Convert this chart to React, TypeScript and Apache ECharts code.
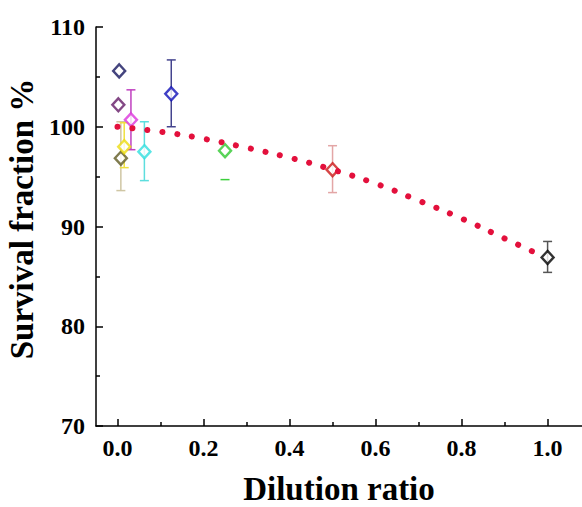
import React, { useEffect, useRef } from "react";
import * as echarts from "echarts";

// Measured points (hollow diamonds)
const dilution = [0.00195, 0.0039, 0.0078, 0.0156, 0.03125, 0.0625, 0.125, 0.25, 0.5, 1.0];
const survival = [102.2, 105.6, 96.85, 98.0, 100.7, 97.5, 103.3, 97.6, 95.7, 86.9];
const errLow: (number | null)[] = [null, null, 93.6, 95.9, 97.7, 94.6, 100.0, 94.7, 93.4, 85.4];
const errHigh: (number | null)[] = [null, null, 100.5, 100.4, 103.7, 100.5, 106.7, null, 98.1, 88.5];

// Fitted trend curve
const fitX = [0, 0.1, 0.2, 0.3, 0.4, 0.5, 0.6, 0.7, 0.8, 0.9, 0.985];
const fitY = [100.0, 99.5, 98.8, 97.9, 96.9, 95.7, 94.3, 92.6, 90.8, 88.8, 87.1];

// Tick values
const xTicks = [0, 0.2, 0.4, 0.6, 0.8, 1.0];
const xMinorTicks = [0.1, 0.3, 0.5, 0.7, 0.9];

// Styles
const markerColors = ["#641a66", "#15155e", "#5f5a22", "#ecdc10", "#dc34dc", "#30dede", "#1010b8", "#30c830", "#cc1818", "#000000"];
const barColors = ["#641a66", "#15155e", "#cfc6a4", "#efe040", "#c040c0", "#5ddede", "#44448e", "#3ccf3c", "#e3a6a6", "#555555"];

const FONT = "'Liberation Serif', 'Times New Roman', serif";

export default function App() {
  const ref = useRef<HTMLDivElement>(null);
  useEffect(() => {
    if (!ref.current) return;
    const chart = echarts.init(ref.current, undefined, { renderer: "svg" });

    const errData = dilution
      .map((x, i) => [x, errLow[i] == null ? NaN : errLow[i], errHigh[i] == null ? NaN : errHigh[i], i])
      .filter((d) => !isNaN(d[1] as number));

    const option: any = {
      animation: false,
      backgroundColor: "#ffffff",
      grid: { left: 96, right: 0, top: 27, bottom: 81, containLabel: false },
      xAxis: [
        {
          type: "value",
          min: -0.05,
          max: 1.08,
          axisLine: { show: true, onZero: false, lineStyle: { color: "#000", width: 1.5 } },
          axisTick: { show: true, inside: true, length: 7, customValues: xTicks, lineStyle: { color: "#000", width: 1.5 } },
          axisLabel: {
            show: true,
            customValues: xTicks,
            margin: 10,
            formatter: (v: number) => v.toFixed(1),
            fontFamily: FONT,
            fontWeight: "bold",
            fontSize: 24,
            color: "#000",
          },
          splitLine: { show: false },
        },
        {
          type: "value",
          min: -0.05,
          max: 1.08,
          position: "bottom",
          axisLine: { show: false },
          axisTick: { show: true, inside: true, length: 4, customValues: xMinorTicks, lineStyle: { color: "#000", width: 1.5 } },
          axisLabel: { show: false },
          splitLine: { show: false },
        },
      ],
      yAxis: {
        type: "value",
        min: 70,
        max: 110,
        interval: 10,
        axisLine: { show: true, onZero: false, lineStyle: { color: "#000", width: 1.5 } },
        axisTick: { show: true, inside: true, length: 7, lineStyle: { color: "#000", width: 1.5 } },
        minorTick: { show: true, splitNumber: 2, length: 4, lineStyle: { color: "#000", width: 1.5 } },
        axisLabel: { margin: 11, fontFamily: FONT, fontWeight: "bold", fontSize: 24, color: "#000" },
        splitLine: { show: false },
      },
      graphic: [
        {
          type: "text",
          x: 22,
          y: 219,
          rotation: Math.PI / 2,
          style: {
            text: "Survival fraction %",
            fontFamily: FONT,
            fontWeight: "bold",
            fontSize: 33,
            fill: "#000",
            align: "center",
            verticalAlign: "middle",
          },
        },
        {
          type: "text",
          x: 339,
          y: 489,
          style: {
            text: "Dilution ratio",
            fontFamily: FONT,
            fontWeight: "bold",
            fontSize: 33,
            fill: "#000",
            align: "center",
            verticalAlign: "middle",
          },
        },
      ],
      series: [
        {
          type: "custom",
          xAxisIndex: 0,
          z: 1,
          data: errData,
          renderItem: (params: any, api: any) => {
            const x = api.value(0);
            const lo = api.value(1);
            const hi = api.value(2);
            const idx = api.value(3);
            const color = barColors[idx];
            const pLo = api.coord([x, lo]);
            const half = 4.5;
            const children: any[] = [
              { type: "line", shape: { x1: pLo[0] - half, y1: pLo[1], x2: pLo[0] + half, y2: pLo[1] }, style: { stroke: color, lineWidth: 1.5 } },
            ];
            if (!isNaN(hi)) {
              const pHi = api.coord([x, hi]);
              children.push({ type: "line", shape: { x1: pHi[0], y1: pHi[1], x2: pLo[0], y2: pLo[1] }, style: { stroke: color, lineWidth: 1.5 } });
              children.push({ type: "line", shape: { x1: pHi[0] - half, y1: pHi[1], x2: pHi[0] + half, y2: pHi[1] }, style: { stroke: color, lineWidth: 1.5 } });
            }
            return { type: "group", children };
          },
        },
        {
          type: "scatter",
          xAxisIndex: 0,
          z: 2,
          symbol: "diamond",
          symbolSize: [12, 13],
          data: dilution.map((x, i) => ({
            value: [x, survival[i]],
            itemStyle: { color: "#ffffff", borderColor: markerColors[i], borderWidth: 2.4 },
          })),
        },
        {
          type: "line",
          xAxisIndex: 0,
          z: 3,
          smooth: true,
          showSymbol: false,
          symbol: "none",
          data: fitX.map((x, i) => [x, fitY[i]]),
          lineStyle: { color: "#e3103c", width: 6, type: [0.1, 14.9], cap: "round" },
        },
      ],
    };
    chart.setOption(option);
    return () => chart.dispose();
  }, []);
  return <div ref={ref} style={{ width: 582, height: 507, position: "absolute", left: 0, top: 0 }} />;
}
